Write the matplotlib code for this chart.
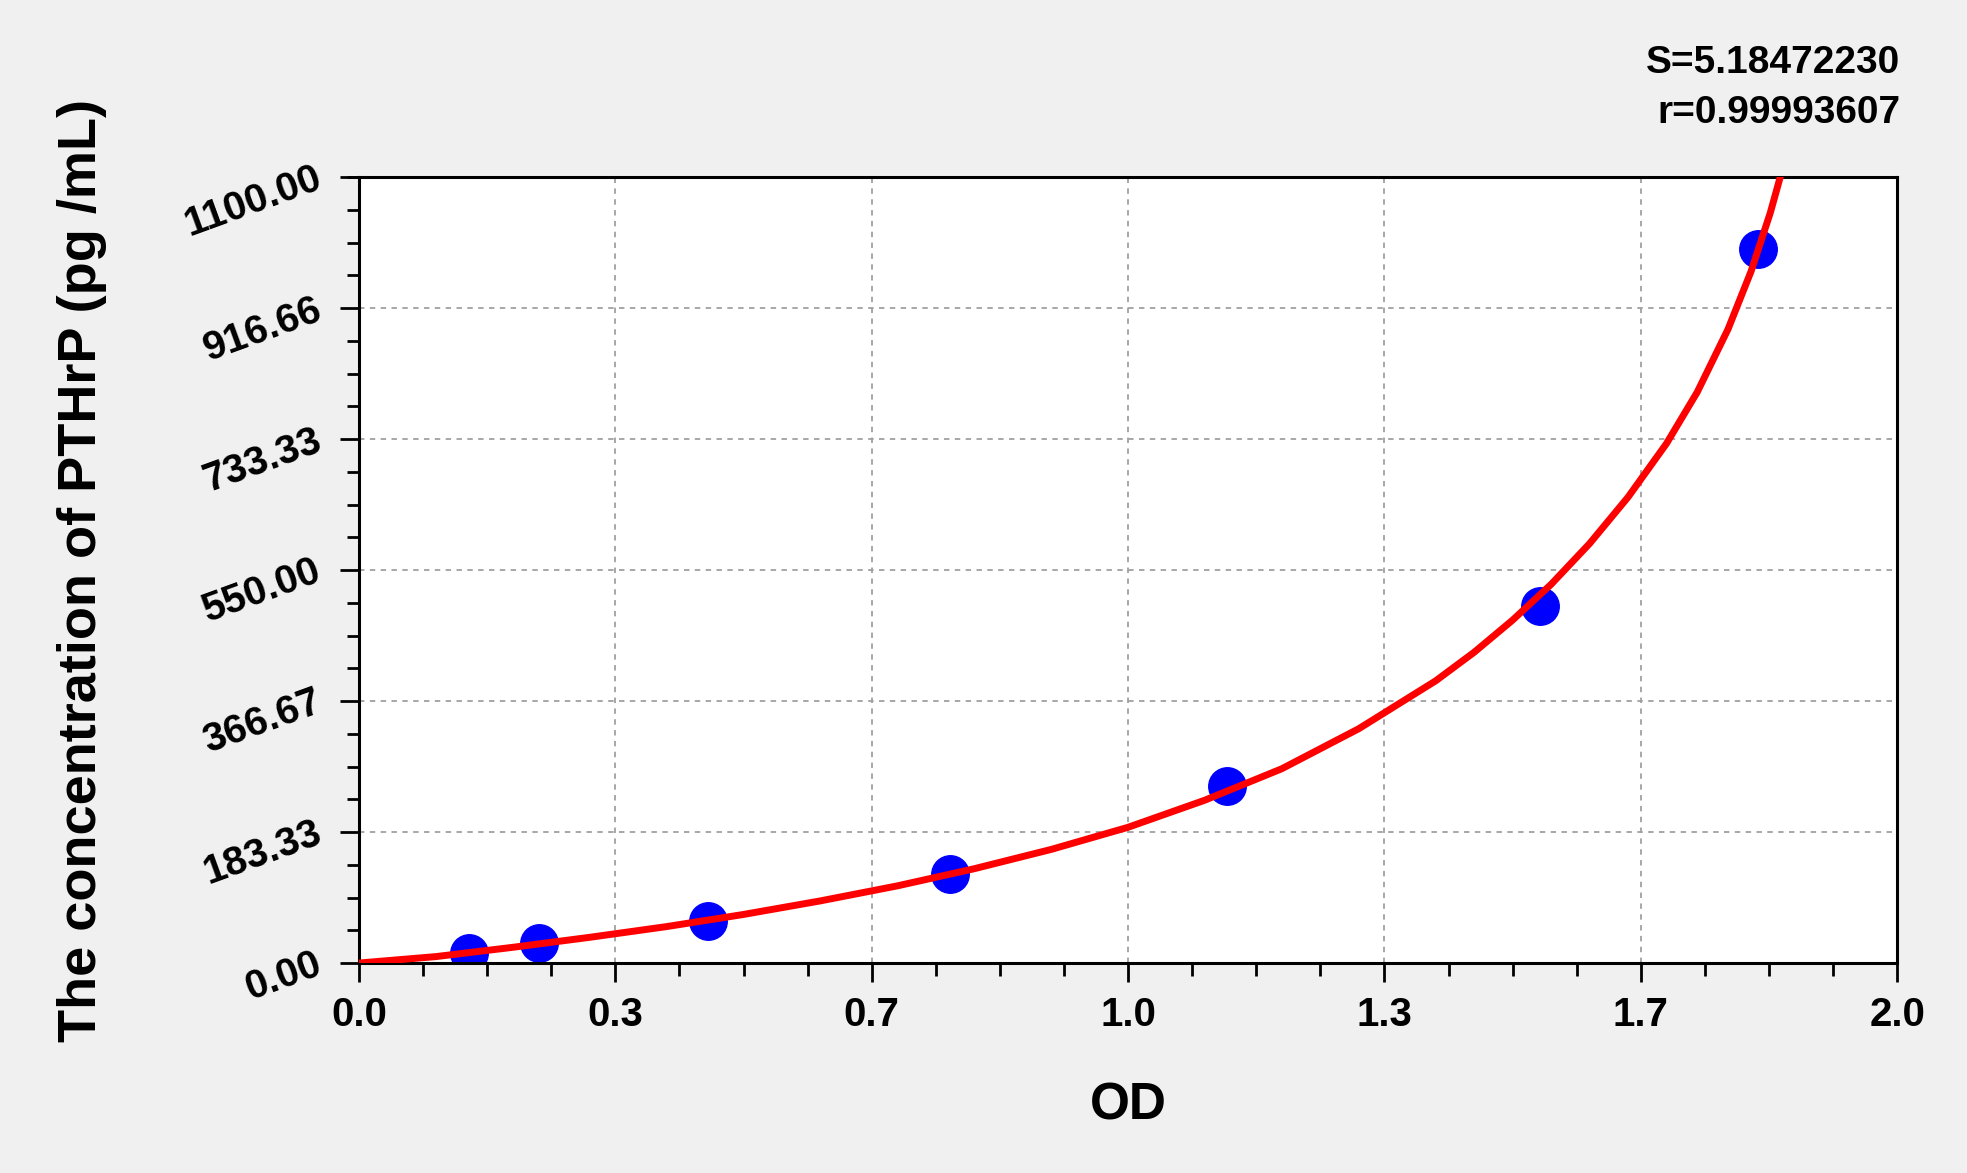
import matplotlib
matplotlib.use("Agg")
import matplotlib.pyplot as plt
from matplotlib.ticker import FixedLocator, AutoMinorLocator

plt.rcParams['font.family'] = ['Liberation Sans', 'DejaVu Sans']
plt.rcParams['font.weight'] = 'bold'

# standards (OD, concentration)
od = [0.143, 0.234, 0.454, 0.769, 1.128, 1.536, 1.819]
conc = [14, 28, 59, 124, 248, 500, 999]

# fitted curve
curve_x = [0.0, 0.1, 0.2, 0.3, 0.4, 0.5, 0.6, 0.7, 0.8, 0.9,
           1.0, 1.1, 1.2, 1.3, 1.4, 1.45, 1.5, 1.55, 1.6, 1.65,
           1.7, 1.74, 1.78, 1.81, 1.835, 1.85]
curve_y = [0, 9, 22, 36, 51, 68, 87, 108, 132, 159,
           190, 228, 272, 328, 395, 435, 480, 530, 587, 652,
           727, 799, 887, 968, 1050, 1108]

xticks = [0.0, 1/3, 2/3, 1.0, 4/3, 5/3, 2.0]
xlabels = ['0.0', '0.3', '0.7', '1.0', '1.3', '1.7', '2.0']
yticks = [0.0, 183.33, 366.67, 550.0, 733.33, 916.66, 1100.0]
ylabels = ['0.00', '183.33', '366.67', '550.00', '733.33', '916.66', '1100.00']

fig = plt.figure(figsize=(19.67, 11.73), dpi=100, facecolor='#f0f0f0')
ax = fig.add_axes([0.1825, 0.179, 0.782, 0.670])
ax.set_facecolor('white')

ax.plot(curve_x, curve_y, color='#ff0000', lw=5, zorder=3,
        solid_joinstyle='round', solid_capstyle='round')
ax.plot(od, conc, 'o', color='#0000ff', ms=27, mec='#0000ff', zorder=2)

ax.set_xlim(0, 2.0)
ax.set_ylim(0, 1100)

ax.xaxis.set_major_locator(FixedLocator(xticks))
ax.set_xticklabels(xlabels, fontsize=29, fontweight='bold')
ax.xaxis.set_minor_locator(AutoMinorLocator(4))
ax.yaxis.set_major_locator(FixedLocator(yticks))
ax.set_yticklabels(ylabels, fontsize=29, fontweight='bold', rotation=20,
                   ha='right', va='center', rotation_mode='anchor')
ax.yaxis.set_minor_locator(AutoMinorLocator(4))

ax.tick_params(which='major', direction='out', length=14, width=2, color='black')
ax.tick_params(which='minor', direction='out', length=9, width=2, color='black')
ax.tick_params(axis='x', which='major', pad=10)
ax.tick_params(axis='y', which='major', pad=14)

for s in ax.spines.values():
    s.set_linewidth(2.2)
    s.set_color('black')

ax.grid(True, which='major', color='#a0a0a0', lw=1.3, ls=(0, (3, 3)))
ax.set_axisbelow(True)

ax.set_xlabel('OD', fontsize=37, fontweight='bold', labelpad=34)
fig.text(82 / 1967, 1 - 570 / 1173, 'The concentration of PTHrP (pg /mL)',
         rotation=90, fontsize=39, fontweight='bold', ha='center', va='center')

fig.text(1900 / 1967, 1 - 63 / 1173, 'S=5.18472230', fontsize=28,
         fontweight='bold', ha='right', va='center')
fig.text(1900 / 1967, 1 - 113 / 1173, 'r=0.99993607', fontsize=28,
         fontweight='bold', ha='right', va='center')

fig.savefig('out.png', dpi=100, facecolor=fig.get_facecolor())
